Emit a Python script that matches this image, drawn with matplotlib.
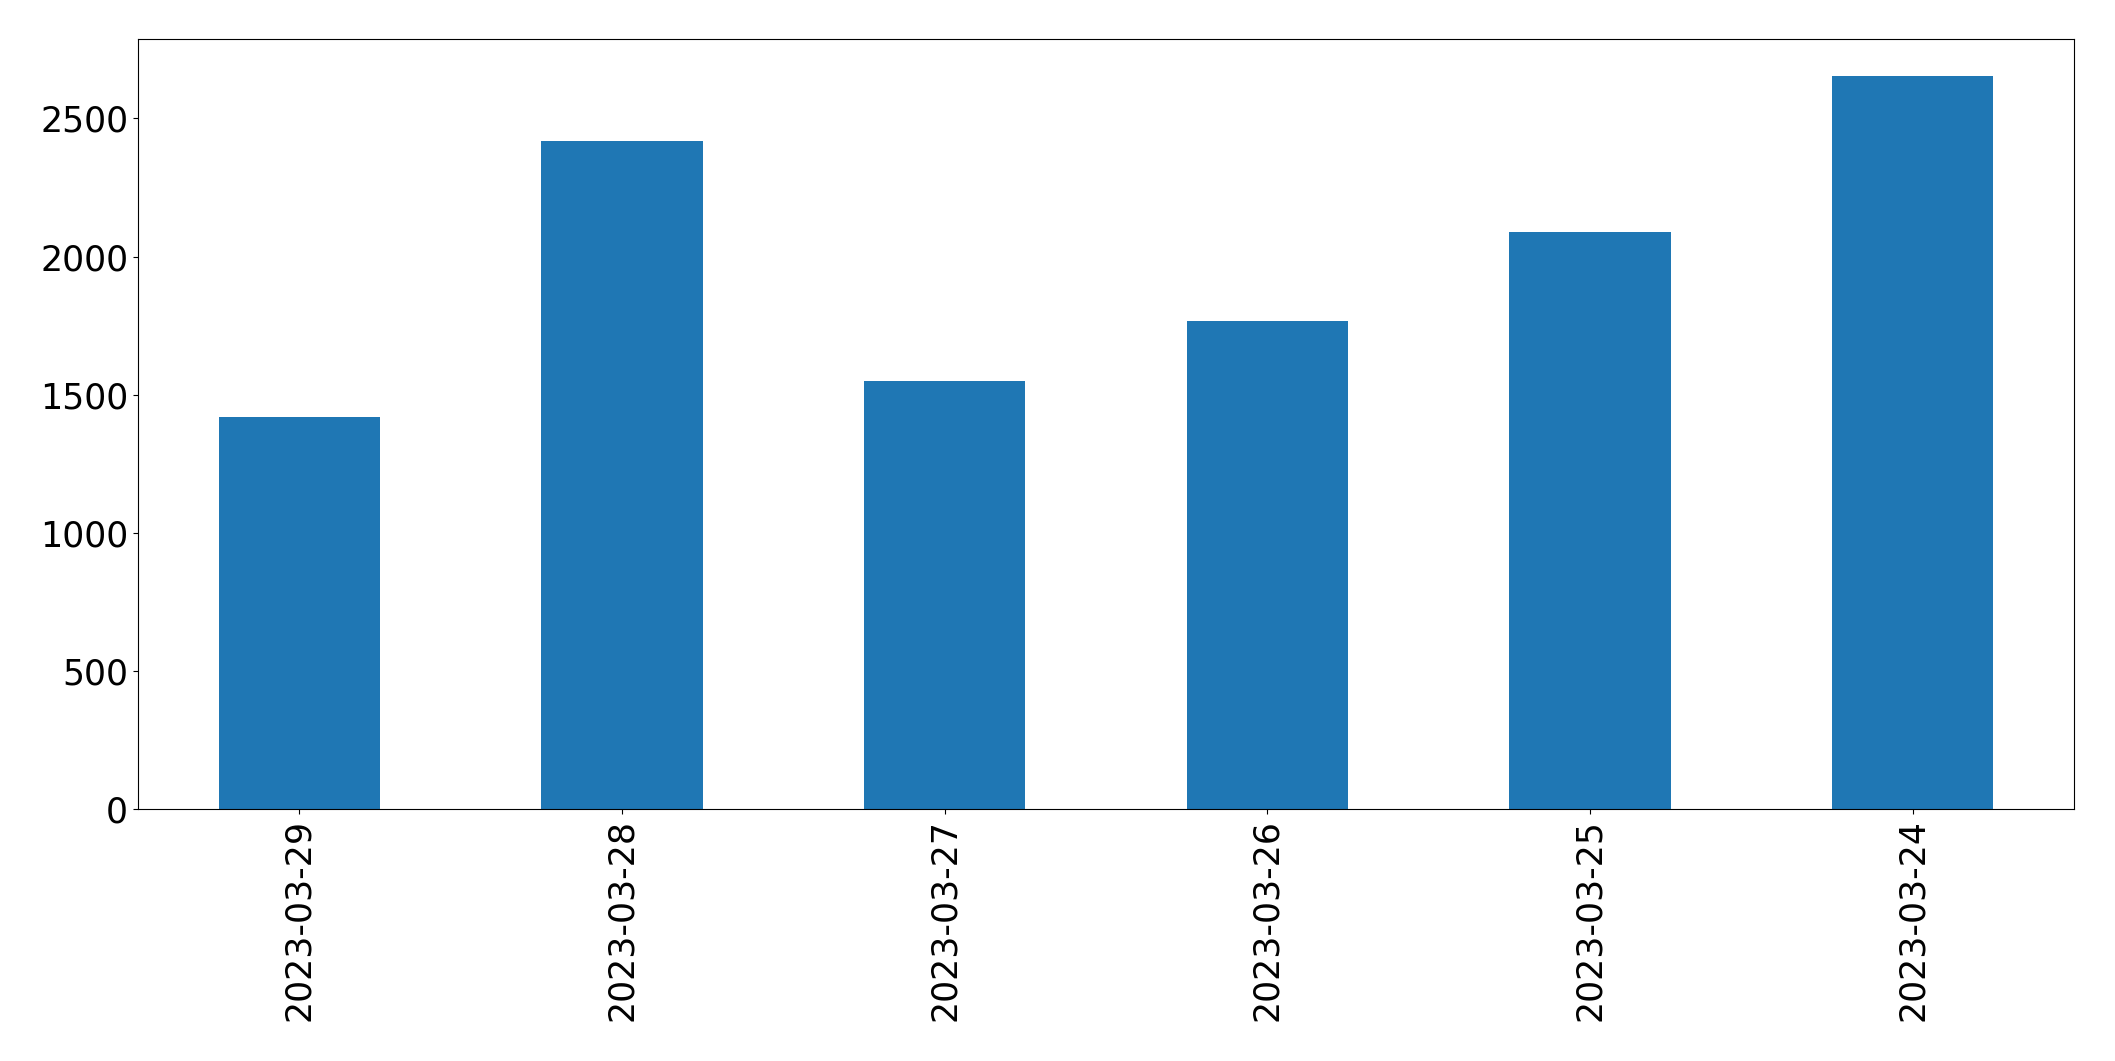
import matplotlib
matplotlib.use("Agg")
import matplotlib.pyplot as plt

# ------- DATA -------
dates = ["2023-03-29", "2023-03-28", "2023-03-27", "2023-03-26", "2023-03-25", "2023-03-24"]
counts = [1420, 2419, 1551, 1768, 2090, 2654]

# ------- PLOT -------
fig = plt.figure(figsize=(21.15, 10.61), dpi=100)
ax = fig.add_axes([0.0652, 0.2372, 0.9154, 0.7258])
x = list(range(len(dates)))
ax.bar(x, counts, width=0.5, color="#1f77b4")
ax.set_xlim(-0.5, len(dates) - 0.5)
ax.set_ylim(0, max(counts) * 1.05)
ax.set_xticks(x)
ax.set_xticklabels(dates, rotation=90, fontsize=25)
ax.tick_params(axis="y", labelsize=25)
fig.savefig("out.png", dpi=100)
